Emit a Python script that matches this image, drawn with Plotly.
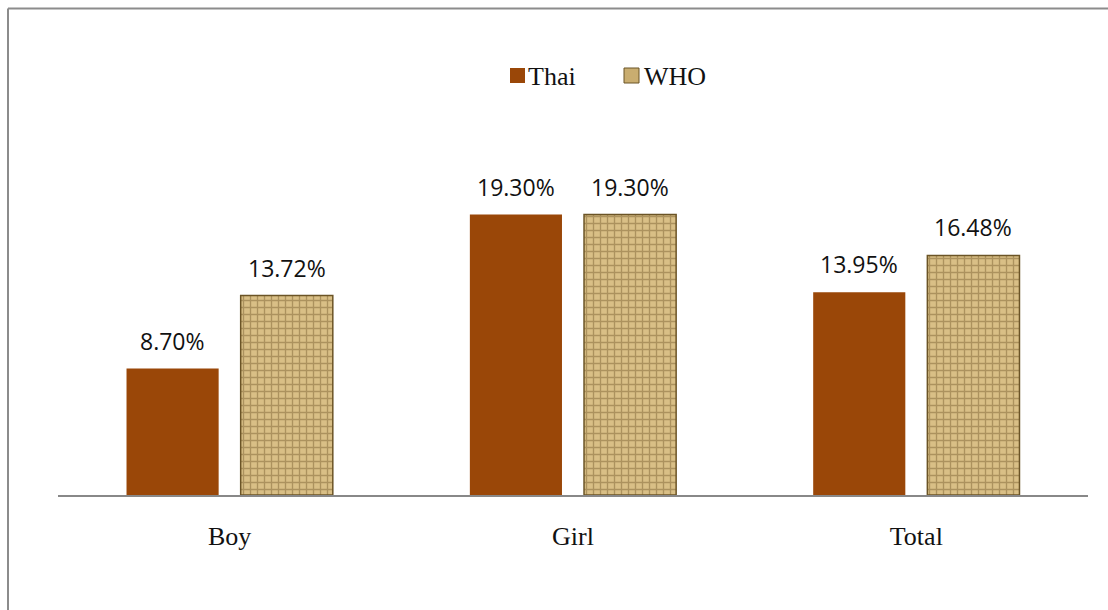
import plotly.graph_objects as go

categories = ["Boy", "Girl", "Total"]
thai = [8.70, 19.30, 13.95]
who = [13.72, 19.30, 16.48]
series_names = ["Thai", "WHO"]

THAI_COLOR = "#9a4708"
WHO_BG = "#d9bf86"
WHO_FG = "#7f6636"

# plot area in pixels (for converting overlay positions to paper coords)
L, R, T, B = 58, 1088, 59, 495
W, H = R - L, B - T


def px(x):
    return (x - L) / W


def py(y):
    return (B - y) / H


xs = list(range(len(categories)))

fig = go.Figure()
fig.add_trace(go.Bar(
    x=xs, y=thai, name=series_names[0],
    marker=dict(color=THAI_COLOR, line=dict(width=0)),
    showlegend=False,
))
fig.add_trace(go.Bar(
    x=xs, y=who, name=series_names[1],
    marker=dict(
        color=WHO_BG,
        line=dict(color="#6b5426", width=1.5),
        pattern=dict(shape="+", bgcolor=WHO_BG, fgcolor=WHO_FG, size=7, solidity=0.35),
    ),
    showlegend=False,
))

# value labels
lab_font = dict(family="Open Sans", size=23, color="#111111")
annotations = []
for i, v in enumerate(thai):
    annotations.append(dict(x=i, y=v, xref="x", yref="y", text=f"{v:.2f}%",
                            showarrow=False, xshift=-57, yshift=28, yanchor="middle",
                            font=lab_font))
for i, v in enumerate(who):
    annotations.append(dict(x=i, y=v, xref="x", yref="y", text=f"{v:.2f}%",
                            showarrow=False, xshift=57, yshift=28, yanchor="middle",
                            font=lab_font))

# manual legend
leg_font = dict(family="Liberation Serif", size=26, color="#111111")
annotations.append(dict(x=px(526), y=py(77), xref="paper", yref="paper", text=series_names[0],
                        showarrow=False, xanchor="left", yanchor="middle", font=leg_font))
annotations.append(dict(x=px(642), y=py(77), xref="paper", yref="paper", text=series_names[1],
                        showarrow=False, xanchor="left", yanchor="middle", font=leg_font))

shapes = [
    # legend swatches
    dict(type="rect", xref="paper", yref="paper", x0=px(510), x1=px(525), y0=py(83), y1=py(68),
         fillcolor=THAI_COLOR, line=dict(width=0)),
    dict(type="rect", xref="paper", yref="paper", x0=px(624), x1=px(639), y0=py(83), y1=py(68),
         fillcolor="#c9ad70", line=dict(color="#6b5426", width=1)),
    # chart border
    dict(type="line", xref="paper", yref="paper", x0=px(8), x1=px(1108), y0=py(8.5), y1=py(8.5),
         line=dict(color="#8c8c8c", width=2)),
    dict(type="line", xref="paper", yref="paper", x0=px(8), x1=px(8), y0=py(8.5), y1=py(610),
         line=dict(color="#8c8c8c", width=2)),
]

fig.update_layout(
    width=1108, height=610,
    margin=dict(l=L, r=1108 - R, t=T, b=610 - B),
    paper_bgcolor="white", plot_bgcolor="white",
    barmode="group", bargap=0.335, bargroupgap=0.193,
    annotations=annotations, shapes=shapes,
    showlegend=False,
)
fig.update_xaxes(
    tickmode="array", tickvals=xs, ticktext=categories,
    range=[-0.5, len(categories) - 0.5],
    showline=True, linecolor="#888888", linewidth=2,
    showgrid=False, zeroline=False, ticks="",
    ticklabelstandoff=17,
    tickfont=dict(family="Liberation Serif", size=26, color="#111111"),
)
fig.update_yaxes(range=[0, 30], visible=False, showgrid=False, zeroline=False)

fig.write_html("out.html")
